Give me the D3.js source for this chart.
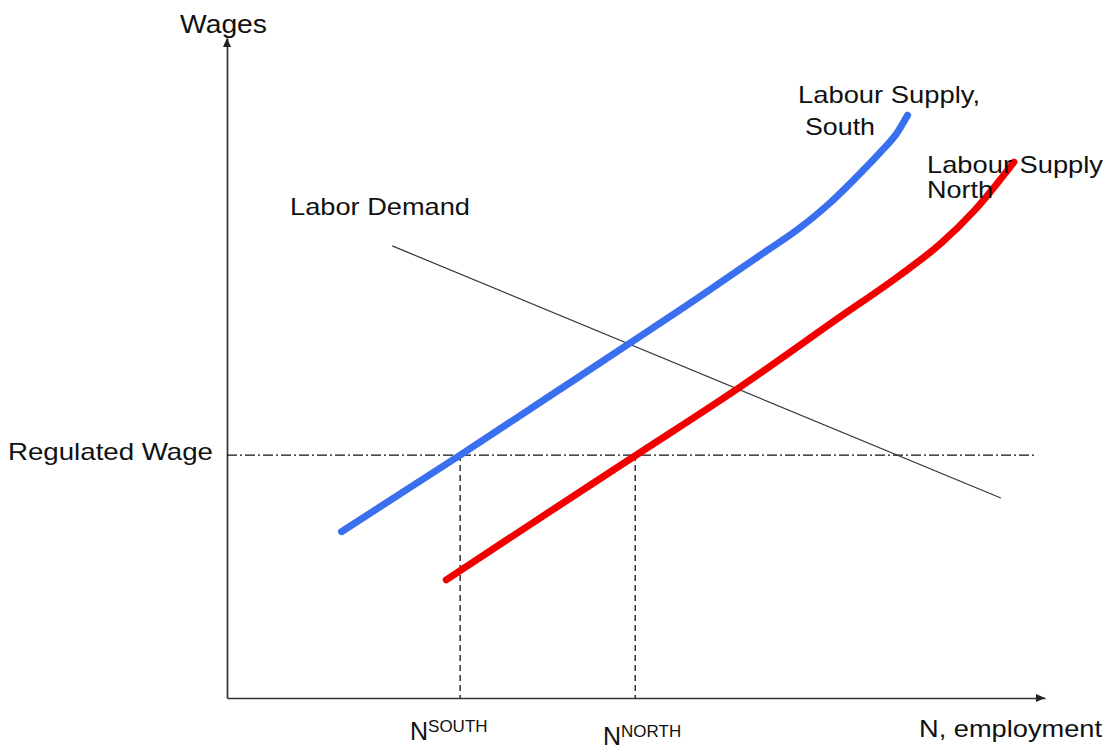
<!DOCTYPE html>
<html><head><meta charset="utf-8">
<script src="https://cdn.jsdelivr.net/npm/d3@7"></script>
<style>
html,body{margin:0;padding:0;background:#fff;}
text{font-family:"Liberation Sans",Arial,sans-serif;fill:#111;}
</style></head>
<body>
<svg id="c" width="1112" height="749"></svg>
<script>
// ---- data (arbitrary units: employment 0..100, wages 0..100) ----
const supplySouthN = [14, 28.5, 38.9, 49.3, 57.8, 65.2, 70, 73.7, 77.4, 79.8, 81.9, 83.2];
const supplySouthW = [25.2, 36.8, 45.3, 53.8, 60.8, 67.1, 71.2, 75, 79.5, 82.6, 85.6, 88.3];
const supplyNorthN = [26.8, 38.3, 49.9, 62.7, 74.9, 82.3, 87.2, 91.4, 96.2];
const supplyNorthW = [17.9, 27.3, 36.7, 47.1, 57.7, 64.1, 68.8, 73.9, 81.2];
const demandN = [20.2, 94.6];
const demandW = [68.5, 30.3];
const regulatedWage = 36.8;
const regulatedWageEnd = 99;
const employmentMarks = [28.5, 49.9];   // N south, N north
const employmentLabels = ["SOUTH", "NORTH"];

const svg = d3.select("#c");
const x = d3.scaleLinear().domain([0, 100]).range([227, 1045]);
const y = d3.scaleLinear().domain([0, 100]).range([698, 38]);

// axes
const xAxis = d3.axisBottom(x).tickValues([]).tickSizeOuter(0);
const yAxis = d3.axisLeft(y).tickValues([]).tickSizeOuter(0);
svg.append("g").attr("transform", `translate(0,${y(0)})`).call(xAxis)
  .select(".domain").attr("stroke", "#333").attr("stroke-width", 1.7);
svg.append("g").attr("transform", `translate(${x(0)},0)`).call(yAxis)
  .select(".domain").attr("stroke", "#333").attr("stroke-width", 1.7);
// arrowheads
svg.append("path")
  .attr("d", `M${x(100)},${y(0)} l-9,-4 l0,8 z`).attr("fill", "#222");
svg.append("path")
  .attr("d", `M${x(0)},${y(100)} l-4,9 l8,0 z`).attr("fill", "#222");

// regulated wage dash-dot line
svg.append("line")
  .attr("x1", x(0)).attr("x2", x(regulatedWageEnd))
  .attr("y1", y(regulatedWage)).attr("y2", y(regulatedWage))
  .attr("stroke", "#111").attr("stroke-width", 1.3)
  .attr("stroke-dasharray", "10,3,2,3");

// vertical dashed lines
svg.selectAll("line.vd").data(employmentMarks).enter().append("line")
  .attr("class", "vd")
  .attr("x1", d => x(d)).attr("x2", d => x(d))
  .attr("y1", y(regulatedWage)).attr("y2", y(0))
  .attr("stroke", "#111").attr("stroke-width", 1.3)
  .attr("stroke-dasharray", "6,4");

// demand line
svg.append("line")
  .attr("x1", x(demandN[0])).attr("y1", y(demandW[0]))
  .attr("x2", x(demandN[1])).attr("y2", y(demandW[1]))
  .attr("stroke", "#333").attr("stroke-width", 1.2);

const line = d3.line().x(d => x(d[0])).y(d => y(d[1])).curve(d3.curveMonotoneX);
svg.append("path")
  .datum(supplySouthN.map((n, i) => [n, supplySouthW[i]]))
  .attr("d", line).attr("fill", "none")
  .attr("stroke", "#3a6ff0").attr("stroke-width", 7).attr("stroke-linecap", "round");
svg.append("path")
  .datum(supplyNorthN.map((n, i) => [n, supplyNorthW[i]]))
  .attr("d", line).attr("fill", "none")
  .attr("stroke", "#f20000").attr("stroke-width", 7).attr("stroke-linecap", "round");

// labels
function label(t, px, py, len, size) {
  svg.append("text").attr("x", px).attr("y", py)
    .attr("font-size", size || 24)
    .attr("textLength", len).attr("lengthAdjust", "spacingAndGlyphs")
    .text(t);
}
label("Wages", 180, 33, 87, 25);
label("Labour Supply,", 798, 103, 182);
label("South", 805, 135, 70);
label("Labour Supply", 927, 173, 176);
label("North", 927, 198, 66);
label("Labor Demand", 290, 215, 180);
label("Regulated Wage", 8, 460, 205);
label("N, employment", 919, 737, 183);

// N superscript labels
const nLabelPos = [[410, 740], [603, 745]];
employmentLabels.forEach((s, i) => {
  const t = svg.append("text").attr("x", nLabelPos[i][0]).attr("y", nLabelPos[i][1]).attr("font-size", 25);
  t.append("tspan").text("N");
  t.append("tspan").attr("font-size", 17).attr("dy", -8).text(s);
});
</script>
</body></html>
